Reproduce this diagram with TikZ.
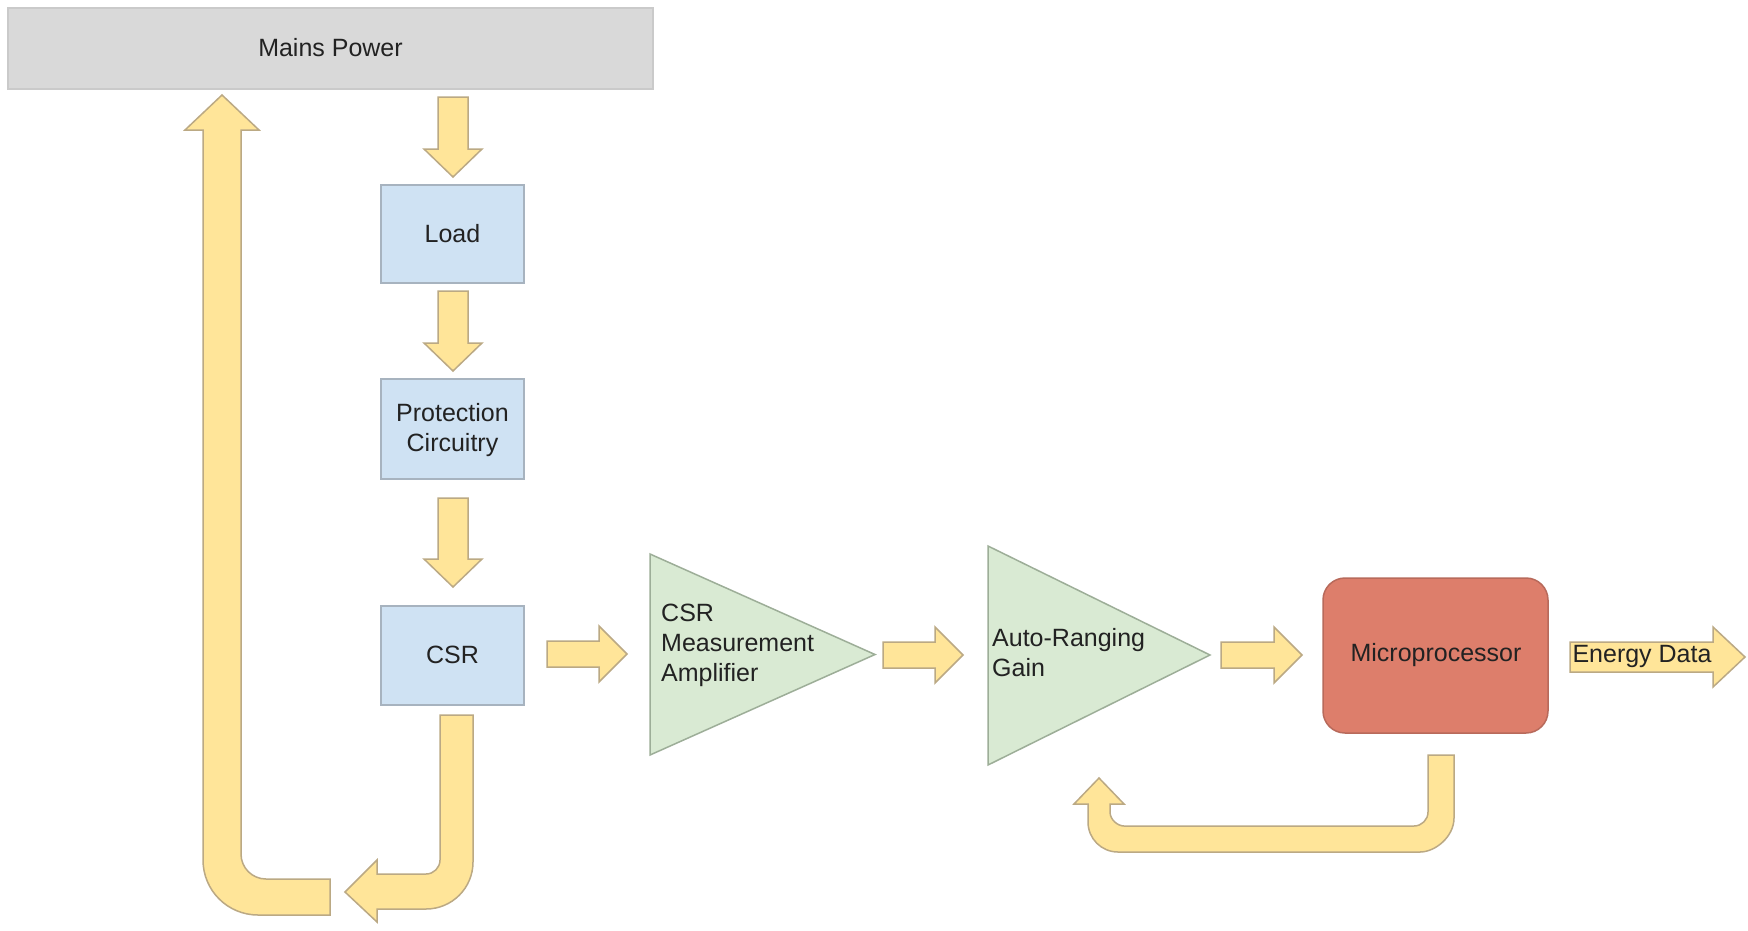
\documentclass[tikz,border=0pt]{standalone}
\usepackage{fontspec}
\setmainfont{Liberation Sans}
\definecolor{fillY}{HTML}{FFE599}
\definecolor{edgeY}{HTML}{BBA984}
\definecolor{blueF}{HTML}{CFE2F3}
\definecolor{edgeB}{HTML}{A7B3BF}
\definecolor{greenF}{HTML}{D9EAD3}
\definecolor{edgeG}{HTML}{9DAE98}
\definecolor{grayF}{HTML}{D9D9D9}
\definecolor{edgeM}{HTML}{CACACA}
\definecolor{redF}{HTML}{DD7E6B}
\definecolor{edgeR}{HTML}{B86A5B}
\definecolor{txt}{HTML}{222222}
\begin{document}
\begin{tikzpicture}[x=1pt,y=-1pt,
  blk/.style={fill=fillY, draw=edgeY, line width=1.5pt, line join=miter},
  bluebox/.style={draw=edgeB, fill=blueF, line width=1.5pt, minimum width=143pt, inner sep=0pt},
  lbl/.style={text=txt, font=\fontsize{25}{30}\selectfont, inner sep=0pt, align=center},
  tri/.style={fill=greenF, draw=edgeG, line width=1.5pt, line join=miter}]
\useasboundingbox (0,0) rectangle (1748,930);
\fill[white] (0,0) rectangle (1748,930);

% Mains power
\node[draw=edgeM, fill=grayF, line width=1.5pt, minimum width=645pt, minimum height=81pt, inner sep=0pt] (mains) at (330.5,48.5) {};
\node[lbl] (mainsT) at (330.5,48) {Mains Power};

% blue boxes
\node[bluebox, minimum height=98pt] (load) at (452.5,234) {};
\node[lbl] (loadT) at (452.5,234) {Load};
\node[bluebox, minimum height=100pt] (prot) at (452.5,429) {};
\node[lbl] (protT) at (452.5,430) {Protection\\Circuitry};
\node[bluebox, minimum height=99pt] (csr) at (452.5,655.5) {};
\node[lbl] (csrT) at (452.5,655) {CSR};

% amplifiers
\coordinate (a1t) at (650,554);
\coordinate (a1b) at (650,755);
\coordinate (a1o) at (875,654.5);
\draw[tri] (a1t) -- (a1o) -- (a1b) -- cycle;
\node[lbl, anchor=west, align=left] (amp1) at (661,645) {CSR\\Measurement\\Amplifier};
\coordinate (a2t) at (988,546);
\coordinate (a2b) at (988,765);
\coordinate (a2o) at (1210,655);
\draw[tri] (a2t) -- (a2o) -- (a2b) -- cycle;
\node[lbl, anchor=west, align=left] (amp2) at (992,653) {Auto-Ranging\\Gain};

% microprocessor
\node[draw=edgeR, fill=redF, line width=1.5pt, rounded corners=22pt, minimum width=225pt, minimum height=155pt, inner sep=0pt] (micro) at (1435.5,655.5) {};
\node[lbl] (microT) at (1436,655) {Microprocessor};

% vertical block arrows
\draw[blk] (438,97) -- (468,97) -- (468,149) -- (482,149) -- (453,177) -- (424,149) -- (438,149) -- cycle;
\draw[blk] (438,291) -- (468,291) -- (468,343) -- (482,343) -- (453,371) -- (424,343) -- (438,343) -- cycle;
\draw[blk] (438,498) -- (468,498) -- (468,559) -- (482,559) -- (453,587) -- (424,559) -- (438,559) -- cycle;

% horizontal block arrows
\draw[blk] (547,641) -- (599,641) -- (599,626) -- (627,654) -- (599,682) -- (599,667) -- (547,667) -- cycle;
\draw[blk] (883,642) -- (935,642) -- (935,627) -- (963,655) -- (935,683) -- (935,668) -- (883,668) -- cycle;
\draw[blk] (1221,642) -- (1274,642) -- (1274,627) -- (1302,655) -- (1274,683) -- (1274,668) -- (1221,668) -- cycle;

% energy data arrow
\draw[blk] (1570,642) -- (1713,642) -- (1713,627) -- (1745,657) -- (1713,687) -- (1713,672) -- (1570,672) -- cycle;
\node[lbl] (energy) at (1642,656) {Energy Data};

% CSR return (J arrow)
\draw[blk] (440,715) -- (473,715) -- (473,862) .. controls (473,888) and (452,909) .. (426,909) -- (377,909) -- (377,922) -- (345,892) -- (377,860) -- (377,874) -- (426,874) .. controls (433.7,874) and (440,867.7) .. (440,860) -- cycle;

% return to mains (L arrow)
\draw[blk] (330,879) -- (330,915) -- (258,915) .. controls (227.6,915) and (203,890.4) .. (203,860) -- (203,130) -- (185,130) -- (222,95) -- (259,130) -- (241,130) -- (241,854) .. controls (241,867.8) and (252.2,879) .. (266,879) -- cycle;

% feedback from microprocessor to gain
\draw[blk] (1454,755) -- (1454,818) .. controls (1454,836.8) and (1435.2,852) .. (1420,852) -- (1118,852) .. controls (1101.4,852) and (1088,838.6) .. (1088,822) -- (1088,804) -- (1074,804) -- (1099,778) -- (1124,804) -- (1110,804) -- (1110,812) .. controls (1110,819.7) and (1117.7,826) .. (1124,826) -- (1414,826) .. controls (1421.7,826) and (1428,819.7) .. (1428,812) -- (1428,755) -- cycle;
\end{tikzpicture}
\end{document}
